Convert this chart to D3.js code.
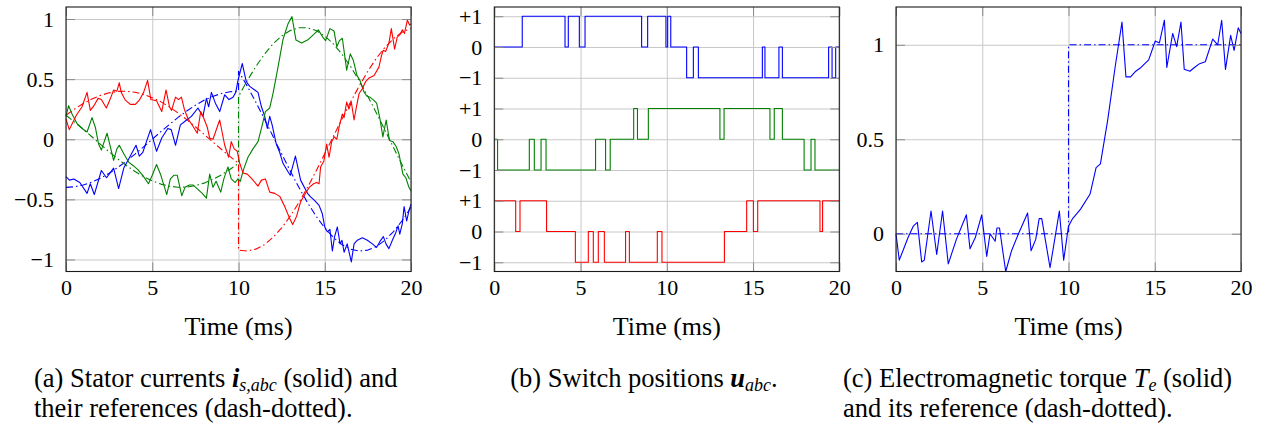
<!DOCTYPE html>
<html>
<head>
<meta charset="utf-8">
<script src="https://cdn.jsdelivr.net/npm/d3@7"></script>
<style>
body { margin: 0; background: #fff; }
svg text { font-family: "Liberation Serif", "Tinos", "Times New Roman", "DejaVu Serif", serif; fill: #000; white-space: pre; }
</style>
</head>
<body>
<div id="container"></div>
<script>
// ---- data ----
var timeTicks = [0, 5, 10, 15, 20];
var curTicks = [-1, -0.5, 0, 0.5, 1];
var curTickLabels = ["\u22121", "\u22120.5", "0", "0.5", "1"];
var swTicks = [0, 1, 2, 3, 4, 5, 6, 7, 8];
var swTickLabels = ["\u22121", "0", "+1", "\u22121", "0", "+1", "\u22121", "0", "+1"];
var tqTicks = [0, 0.5, 1];
var tqTickLabels = ["0", "0.5", "1"];

// stator currents [time ms, value]
var iaMeas = [[0,-0.31],[0.2,-0.34],[0.45,-0.33],[0.8,-0.36],[1.22,-0.45],[1.41,-0.37],[1.64,-0.46],[2.05,-0.26],[2.35,-0.32],[2.76,-0.24],[3.05,-0.41],[3.35,-0.24],[3.65,-0.16],[4.06,-0.05],[4.25,-0.14],[4.45,-0.11],[4.9,0.08],[5.25,-0.1],[5.55,0.01],[5.9,0.09],[6.1,0.08],[6.35,-0.05],[6.63,0.12],[6.9,0.15],[7.27,0.19],[7.65,0.26],[7.94,0.19],[8.14,0.34],[8.27,0.27],[8.43,0.39],[8.66,0.3],[8.91,0.23],[9.2,0.37],[9.45,0.33],[9.68,0.35],[9.84,0.39],[9.97,0.49],[10.22,0.63],[10.45,0.48],[10.65,0.44],[10.94,0.41],[11.13,0.39],[11.33,0.27],[11.52,0.19],[11.67,0.09],[11.81,0.19],[11.95,0.12],[12.19,-0.04],[12.39,-0.11],[12.58,-0.2],[12.87,-0.27],[13.0,-0.3],[13.3,-0.14],[13.6,-0.34],[14.0,-0.45],[14.18,-0.48],[14.42,-0.51],[14.67,-0.55],[14.86,-0.62],[15.0,-0.73],[15.15,-0.77],[15.3,-0.75],[15.44,-0.93],[15.57,-0.81],[15.73,-0.73],[15.89,-0.87],[16.0,-0.84],[16.12,-0.94],[16.3,-0.87],[16.54,-1.02],[16.7,-0.87],[16.89,-0.84],[17.18,-0.82],[17.47,-0.84],[17.76,-0.87],[18.0,-0.9],[18.2,-0.85],[18.4,-0.81],[18.55,-0.87],[18.72,-0.91],[18.92,-0.84],[19.11,-0.78],[19.25,-0.72],[19.35,-0.79],[19.5,-0.7],[19.6,-0.56],[19.75,-0.68],[19.89,-0.59],[20,-0.54]];
var ibMeas = [[0,0.19],[0.15,0.28],[0.35,0.21],[0.64,0.13],[0.93,0.09],[1.22,0.06],[1.51,0.18],[1.7,0.1],[1.89,-0.04],[2.05,-0.09],[2.38,0.05],[2.6,-0.08],[2.76,-0.175],[2.95,-0.08],[3.09,-0.05],[3.35,-0.12],[3.63,-0.19],[3.9,-0.22],[4.15,-0.25],[4.45,-0.3],[4.78,-0.37],[5.0,-0.3],[5.25,-0.21],[5.5,-0.3],[5.84,-0.46],[6.05,-0.33],[6.25,-0.3],[6.45,-0.3],[6.71,-0.47],[6.9,-0.4],[7.15,-0.38],[7.36,-0.38],[7.6,-0.41],[7.9,-0.45],[8.14,-0.49],[8.33,-0.29],[8.52,-0.4],[8.7,-0.35],[8.97,-0.44],[9.15,-0.33],[9.39,-0.23],[9.58,-0.33],[9.81,-0.36],[9.97,-0.33],[10.1,-0.35],[10.32,-0.24],[10.55,-0.15],[10.84,-0.08],[11.13,-0.02],[11.33,0.09],[11.56,0.23],[11.81,0.26],[12.0,0.38],[12.29,0.6],[12.58,0.83],[12.87,0.96],[13.1,1.02],[13.33,0.825],[13.66,0.8],[14.05,0.83],[14.35,0.87],[14.63,0.91],[14.88,0.85],[15.05,0.82],[15.3,0.92],[15.54,0.9],[15.7,0.77],[15.85,0.82],[16.02,0.84],[16.27,0.575],[16.48,0.71],[16.65,0.66],[16.87,0.53],[17.04,0.49],[17.25,0.4],[17.43,0.36],[17.62,0.35],[17.8,0.33],[18.01,0.3],[18.2,0.17],[18.37,0.02],[18.56,0.16],[18.75,-0.01],[18.95,-0.02],[19.14,-0.06],[19.3,-0.12],[19.53,-0.29],[19.7,-0.32],[19.88,-0.4],[20,-0.43]];
var icMeas = [[0,0.17],[0.19,0.08],[0.6,0.2],[0.93,0.27],[1.22,0.39],[1.41,0.24],[1.6,0.275],[1.86,0.34],[2.05,0.33],[2.34,0.26],[2.55,0.33],[2.76,0.41],[2.95,0.4],[3.09,0.47],[3.2,0.39],[3.44,0.325],[3.73,0.29],[4.02,0.29],[4.25,0.325],[4.5,0.39],[4.73,0.49],[4.92,0.33],[5.25,0.32],[5.55,0.23],[5.8,0.41],[6.0,0.27],[6.12,0.24],[6.35,0.35],[6.53,0.33],[6.69,0.35],[6.86,0.25],[7.07,0.17],[7.35,0.11],[7.61,0.05],[7.81,0.23],[8.0,0.17],[8.19,0.1],[8.33,0.01],[8.52,0.0],[8.91,0.16],[9.2,-0.05],[9.43,-0.15],[9.58,-0.02],[9.75,-0.08],[9.93,-0.1],[10.07,-0.2],[10.26,-0.28],[10.51,-0.29],[10.78,-0.33],[11.13,-0.39],[11.33,-0.34],[11.56,-0.33],[11.81,-0.44],[12.1,-0.45],[12.39,-0.475],[12.68,-0.56],[12.97,-0.66],[13.14,-0.71],[13.37,-0.64],[13.6,-0.52],[13.8,-0.47],[14.1,-0.4],[14.35,-0.37],[14.53,-0.36],[14.67,-0.37],[14.76,-0.23],[14.95,-0.18],[15.11,-0.04],[15.25,-0.15],[15.4,-0.02],[15.55,0.02],[15.7,0.0],[15.83,0.1],[16.02,0.21],[16.12,0.18],[16.27,0.31],[16.4,0.25],[16.54,0.31],[16.7,0.16],[16.85,0.28],[16.99,0.38],[17.18,0.42],[17.37,0.48],[17.57,0.51],[17.86,0.53],[18.14,0.6],[18.28,0.69],[18.39,0.74],[18.53,0.73],[18.72,0.8],[18.86,0.92],[19.05,0.75],[19.2,0.85],[19.36,0.87],[19.5,0.91],[19.62,0.88],[19.79,0.99],[19.92,0.95],[20,0.96]];

// current references (dash-dotted)
var iaRef = [[0,-0.4],[0.5,-0.395],[1,-0.38],[1.5,-0.356],[2,-0.324],[2.5,-0.283],[3,-0.235],[3.5,-0.182],[4,-0.124],[4.5,-0.063],[5,0],[5.5,0.063],[6,0.124],[6.5,0.182],[7,0.235],[7.5,0.283],[8,0.324],[8.5,0.356],[9,0.38],[9.5,0.395],[10,0.4],
  [10,0.566],[10.5,0.444],[11,0.31],[11.5,0.169],[12,0.024],[12.5,-0.121],[13,-0.264],[13.5,-0.4],[14,-0.527],[14.5,-0.64],[15,-0.738],[15.5,-0.817],[16,-0.877],[16.5,-0.914],[17,-0.93],[17.5,-0.922],[18,-0.892],[18.5,-0.839],[19,-0.766],[19.5,-0.675],[20,-0.566]];
var ibRef = [[0,0.2],[0.5,0.143],[1,0.083],[1.5,0.021],[2,-0.042],[2.5,-0.104],[3,-0.163],[3.5,-0.218],[4,-0.268],[4.5,-0.311],[5,-0.346],[5.5,-0.373],[6,-0.391],[6.5,-0.399],[7,-0.398],[7.5,-0.386],[8,-0.365],[8.5,-0.335],[9,-0.297],[9.5,-0.252],[10,-0.2],
  [10,0.356],[10.5,0.486],[11,0.604],[11.5,0.707],[12,0.793],[12.5,0.859],[13,0.904],[13.5,0.927],[14,0.927],[14.5,0.904],[15,0.859],[15.5,0.793],[16,0.707],[16.5,0.604],[17,0.486],[17.5,0.356],[18,0.217],[18.5,0.073],[19,-0.073],[19.5,-0.217],[20,-0.356]];
var icRef = [[0,0.2],[0.5,0.252],[1,0.297],[1.5,0.335],[2,0.365],[2.5,0.386],[3,0.398],[3.5,0.399],[4,0.391],[4.5,0.373],[5,0.346],[5.5,0.311],[6,0.268],[6.5,0.218],[7,0.163],[7.5,0.104],[8,0.042],[8.5,-0.021],[9,-0.083],[9.5,-0.143],[10,-0.2],
  [10,-0.922],[10.5,-0.93],[11,-0.914],[11.5,-0.877],[12,-0.817],[12.5,-0.738],[13,-0.64],[13.5,-0.527],[14,-0.4],[14.5,-0.264],[15,-0.121],[15.5,0.024],[16,0.169],[16.5,0.31],[17,0.444],[17.5,0.566],[18,0.675],[18.5,0.766],[19,0.839],[19.5,0.892],[20,0.922]];

// switch positions [switching time ms, new level]
var uA = [[0,0],[1.62,1],[4.1,0],[4.29,1],[4.93,0],[5.26,1],[8.54,0],[8.89,1],[9.95,0],[10.05,1],[10.23,0],[11.15,-1],[11.54,0],[11.83,-1],[15.54,0],[15.69,-1],[16.5,0],[16.7,-1],[19.38,0],[19.58,-1],[19.79,0],[20,0]];
var uB = [[0,0],[0.19,-1],[2.03,0],[2.32,-1],[2.71,0],[3.0,-1],[5.87,0],[6.45,-1],[6.72,0],[8.08,1],[8.3,0],[8.93,1],[13.08,0],[13.32,1],[15.98,0],[16.23,1],[16.7,0],[17.96,-1],[18.36,0],[18.59,-1],[20,-1]];
var uC = [[0,1],[1.24,0],[1.49,1],[3.03,0],[4.7,-1],[5.45,0],[5.74,-1],[6.03,0],[6.38,-1],[7.61,0],[7.83,-1],[9.45,0],[9.72,-1],[13.34,0],[14.63,1],[15.02,0],[15.27,1],[18.88,0],[19.03,1],[20,1]];

// electromagnetic torque
var tqMeas = [[0,0],[0.19,-0.14],[0.7,-0.02],[1.0,0.04],[1.24,0.06],[1.49,-0.15],[1.64,-0.14],[2.03,0.12],[2.36,-0.11],[2.7,0.12],[3.03,-0.16],[3.5,-0.03],[4.08,0.1],[4.29,-0.08],[4.6,-0.02],[4.97,0.1],[5.26,-0.12],[5.45,0.0],[5.6,-0.02],[5.75,-0.04],[5.85,0.03],[6.0,0.03],[6.36,-0.2],[6.7,-0.09],[7.1,0.0],[7.63,0.11],[7.83,-0.09],[8.1,-0.03],[8.3,0.08],[8.45,0.08],[8.93,-0.18],[9.47,0.12],[9.72,-0.14],[10.0,0.04],[10.24,0.08],[10.7,0.13],[11.25,0.21],[11.6,0.35],[11.85,0.37],[12.27,0.6],[12.7,0.88],[13.1,1.12],[13.33,0.83],[13.6,0.83],[13.9,0.86],[14.2,0.88],[14.65,0.92],[15.03,1.02],[15.27,1.01],[15.56,1.13],[15.7,0.88],[16.04,1.06],[16.27,0.99],[16.52,1.12],[16.71,0.87],[17.04,0.86],[17.3,0.88],[17.6,0.9],[17.93,0.91],[18.36,1.03],[18.65,1.0],[18.88,1.13],[19.1,0.87],[19.4,1.05],[19.6,0.97],[19.84,1.09],[20,1.06]];
var tqRef = [[0,0],[10,0],[10,1],[20,1]];

// ---- layout ----
var width = 1265;
var height = 428;
var plotTop = 7, plotBottom = 271.5;
var blue = "#0000ff", red = "#ff0000", green = "#008000";
var dashDot = "7,3,1.5,3";
var serif = "'Liberation Serif', 'Tinos', 'Times New Roman', 'DejaVu Serif', serif";

var svg = d3.select("#container")
    .append("svg")
    .attr("width", width)
    .attr("height", height)
    .attr("font-family", serif);

function makePanel(left, right, yDomain, yTicks, yLabels) {
    var x = d3.scaleLinear().domain([0, 20]).range([left, right]);
    var y = d3.scaleLinear().domain(yDomain).range([plotBottom, plotTop]);
    var g = svg.append("g");

    // grid
    g.append("g")
        .attr("transform", "translate(0," + plotBottom + ")")
        .call(d3.axisBottom(x).tickValues(timeTicks).tickSize(-(plotBottom - plotTop)).tickFormat(""))
        .call(function (a) { a.select(".domain").remove(); a.selectAll("line").attr("stroke", "#c8c8c8"); });
    g.append("g")
        .attr("transform", "translate(" + left + ",0)")
        .call(d3.axisLeft(y).tickValues(yTicks).tickSize(-(right - left)).tickFormat(""))
        .call(function (a) { a.select(".domain").remove(); a.selectAll("line").attr("stroke", "#c8c8c8"); });

    var plot = g.append("g");

    // tick marks pointing inward, with labels on the bottom and left
    var marks = g.append("g");
    marks.append("g")
        .attr("transform", "translate(0," + plotBottom + ")")
        .call(d3.axisBottom(x).tickValues(timeTicks).tickSize(-9).tickPadding(8));
    marks.append("g")
        .attr("transform", "translate(0," + plotTop + ")")
        .call(d3.axisTop(x).tickValues(timeTicks).tickSize(-9).tickFormat(""));
    marks.append("g")
        .attr("transform", "translate(" + left + ",0)")
        .call(d3.axisLeft(y).tickValues(yTicks).tickSize(-9).tickPadding(12)
            .tickFormat(function (d, i) { return yLabels[i]; }));
    marks.append("g")
        .attr("transform", "translate(" + right + ",0)")
        .call(d3.axisRight(y).tickValues(yTicks).tickSize(-9).tickFormat(""));
    marks.selectAll(".domain").remove();
    marks.selectAll("g").attr("font-family", serif);
    marks.selectAll("line").attr("stroke", "#8a8a8a");
    marks.selectAll("text")
        .attr("font-size", 22)
        .attr("fill", "#000");

    g.append("rect")
        .attr("x", left).attr("y", plotTop)
        .attr("width", right - left).attr("height", plotBottom - plotTop)
        .attr("fill", "none").attr("stroke", "#1a1a1a").attr("stroke-width", 1.1);

    g.append("text")
        .attr("x", (left + right) / 2)
        .attr("y", 335)
        .attr("text-anchor", "middle")
        .attr("font-size", 26)
        .text("Time (ms)");

    return { x: x, y: y, plot: plot };
}

function drawLine(p, data, color, dashed, offset, curve) {
    var off = offset || 0;
    var line = d3.line()
        .x(function (d) { return p.x(d[0]); })
        .y(function (d) { return p.y(d[1] + off); })
        .curve(curve || d3.curveLinear);
    p.plot.append("path")
        .datum(data)
        .attr("d", line)
        .attr("fill", "none")
        .attr("stroke", color)
        .attr("stroke-width", 1.1)
        .attr("stroke-linejoin", "round")
        .attr("stroke-dasharray", dashed ? dashDot : null);
}

// (a) stator currents
var pa = makePanel(66, 411, [-1.1, 1.1], curTicks, curTickLabels);
drawLine(pa, iaRef, blue, true);
drawLine(pa, ibRef, green, true);
drawLine(pa, icRef, red, true);
drawLine(pa, iaMeas, blue);
drawLine(pa, ibMeas, green);
drawLine(pa, icMeas, red);

// (b) switch positions, stacked
var pb = makePanel(494.3, 839.3, [-0.3, 8.3], swTicks, swTickLabels);
drawLine(pb, uA, blue, false, 7, d3.curveStepAfter);
drawLine(pb, uB, green, false, 4, d3.curveStepAfter);
drawLine(pb, uC, red, false, 1, d3.curveStepAfter);

// (c) torque
var pc = makePanel(896, 1241, [-0.2, 1.2], tqTicks, tqTickLabels);
drawLine(pc, tqRef, blue, true);
drawLine(pc, tqMeas, blue);

// captions
function caption(x, y, anchor, parts) {
    var size = 26.5;
    var t = svg.append("text")
        .attr("x", x).attr("y", y)
        .attr("text-anchor", anchor)
        .attr("font-size", size);
    var shift = 0;
    parts.forEach(function (p) {
        var ts = t.append("tspan").text(p.s);
        var want = p.sub ? 4 : 0;
        if (want !== shift) { ts.attr("dy", want - shift); shift = want; }
        if (p.sub) ts.attr("font-size", 18);
        if (p.it) ts.attr("font-style", "italic");
        if (p.bf) ts.attr("font-weight", "bold");
    });
}

caption(34, 387, "start", [
    { s: "(a) Stator currents " }, { s: "i", it: true, bf: true }, { s: "s,abc", it: true, sub: true },
    { s: " (solid) and" }]);
caption(34, 417, "start", [{ s: "their references (dash-dotted)." }]);
caption(644, 387, "middle", [
    { s: "(b) Switch positions " }, { s: "u", it: true, bf: true }, { s: "abc", it: true, sub: true }, { s: "." }]);
caption(843, 387, "start", [
    { s: "(c) Electromagnetic torque " }, { s: "T", it: true }, { s: "e", it: true, sub: true },
    { s: " (solid)" }]);
caption(843, 417, "start", [{ s: "and its reference (dash-dotted)." }]);
</script>
</body>
</html>
